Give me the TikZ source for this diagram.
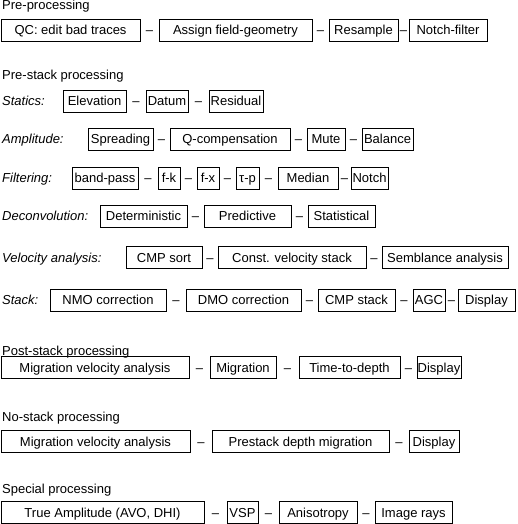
\documentclass[tikz,border=0pt]{standalone}
\usepackage{fontspec}
\setmainfont{Liberation Sans}
\usetikzlibrary{calc}
\tikzset{
  base font/.style={font=\fontsize{13}{16}\selectfont},
  bx/.style={draw, line width=0.9pt, minimum height=22pt, inner sep=0pt,
    text height=12pt, text depth=2.7pt, base font},
  lbl/.style={anchor=west, inner sep=0pt, text height=12pt, text depth=2.7pt,
    font=\fontsize{13}{16}\selectfont\itshape},
  hd/.style={anchor=base west, inner sep=0pt, base font},
  dsh/.style={inner sep=0pt, text height=12pt, text depth=2.7pt, base font}
}
\newcommand{\dashbetween}[3]{\node[dsh] (#1) at ($(#2.east)!0.5!(#3.west)$) {–};}
\begin{document}
\begin{tikzpicture}[x=1pt,y=-1pt]
\useasboundingbox (0,0) rectangle (517,524);

% Pre-processing
\node[hd] (hpre) at (2,10) {Pre-processing};
\node[bx, minimum width=139pt] (qc) at (70.5,30) {QC: edit bad traces};
\node[bx, minimum width=153pt] (assign) at (235.5,30) {Assign field-geometry};
\node[bx, minimum width=69pt] (resample) at (363.5,30) {Resample};
\node[bx, minimum width=78pt] (notchf) at (448,30) {Notch-filter};
\dashbetween{d11}{qc}{assign}
\dashbetween{d12}{assign}{resample}
\dashbetween{d13}{resample}{notchf}

% Pre-stack
\node[hd] (hprestack) at (2,79.5) {Pre-stack processing};

\node[lbl] (lstat) at (2,101) {Statics:};
\node[bx, minimum width=63pt] (elev) at (94.5,101) {Elevation};
\node[bx, minimum width=42pt] (datum) at (167,101) {Datum};
\node[bx, minimum width=54pt] (resid) at (236,101) {Residual};
\dashbetween{d21}{elev}{datum}
\dashbetween{d22}{datum}{resid}

\node[lbl] (lamp) at (2,139) {Amplitude:};
\node[bx, minimum width=65pt] (spread) at (120.5,139) {Spreading};
\node[bx, minimum width=120pt] (qcomp) at (230,139) {Q-compensation};
\node[bx, minimum width=38pt] (mute) at (326,139) {Mute};
\node[bx, minimum width=51pt] (balance) at (387.5,139) {Balance};
\dashbetween{d31}{spread}{qcomp}
\dashbetween{d32}{qcomp}{mute}
\dashbetween{d33}{mute}{balance}

\node[lbl] (lfilt) at (2,178) {Filtering:};
\node[bx, minimum width=66pt] (bandpass) at (105,178) {band-pass};
\node[bx, minimum width=22pt] (fk) at (169,178) {f-k};
\node[bx, minimum width=22pt] (fx) at (208,178) {f-x};
\node[bx, minimum width=23pt] (taup) at (247.5,178) {τ-p};
\node[bx, minimum width=60pt] (median) at (308,178) {Median};
\node[bx, minimum width=37pt] (notch) at (369.5,178) {Notch};
\dashbetween{d41}{bandpass}{fk}
\dashbetween{d42}{fk}{fx}
\dashbetween{d43}{fx}{taup}
\dashbetween{d44}{taup}{median}
\dashbetween{d45}{median}{notch}

\node[lbl] (ldecon) at (2,216) {Deconvolution:};
\node[bx, minimum width=87pt] (determ) at (143.5,216) {Deterministic};
\node[bx, minimum width=87pt] (predict) at (247.5,216) {Predictive};
\node[bx, minimum width=67pt] (statist) at (341.5,216) {Statistical};
\dashbetween{d51}{determ}{predict}
\dashbetween{d52}{predict}{statist}

\node[lbl] (lvel) at (2,257.5) {Velocity analysis:};
\node[bx, minimum width=76pt] (cmpsort) at (164,257.5) {CMP sort};
\node[bx, minimum width=148pt] (constv) at (292,257.5) {Const. velocity stack};
\node[bx, minimum width=126pt] (semb) at (445,257.5) {Semblance analysis};
\dashbetween{d61}{cmpsort}{constv}
\dashbetween{d62}{constv}{semb}

\node[lbl] (lstack) at (2,300) {Stack:};
\node[bx, minimum width=116pt] (nmo) at (108,300) {NMO correction};
\node[bx, minimum width=115pt] (dmo) at (243.5,300) {DMO correction};
\node[bx, minimum width=77pt] (cmpstack) at (356.5,300) {CMP stack};
\node[bx, minimum width=32pt] (agc) at (429,300) {AGC};
\node[bx, minimum width=57pt] (disp1) at (486.5,300) {Display};
\dashbetween{d71}{nmo}{dmo}
\dashbetween{d72}{dmo}{cmpstack}
\dashbetween{d73}{cmpstack}{agc}
\dashbetween{d74}{agc}{disp1}

% Post-stack
\node[hd] (hpost) at (2,355) {Post-stack processing};
\node[bx, minimum width=188pt] (mva1) at (95,367.5) {Migration velocity analysis};
\node[bx, minimum width=66pt] (migr) at (243,367.5) {Migration};
\node[bx, minimum width=101pt] (ttd) at (349.5,367.5) {Time-to-depth};
\node[bx, minimum width=44pt] (disp2) at (439,367.5) {Display};
\dashbetween{d81}{mva1}{migr}
\dashbetween{d82}{migr}{ttd}
\dashbetween{d83}{ttd}{disp2}

% No-stack
\node[hd] (hno) at (2,421.5) {No-stack processing};
\node[bx, minimum width=189pt] (mva2) at (95.5,441.5) {Migration velocity analysis};
\node[bx, minimum width=177pt] (psdm) at (300.5,441.5) {Prestack depth migration};
\node[bx, minimum width=50pt] (disp3) at (434,441.5) {Display};
\dashbetween{d91}{mva2}{psdm}
\dashbetween{d92}{psdm}{disp3}

% Special
\node[hd] (hspec) at (2,493.5) {Special processing};
\node[bx, minimum width=203pt] (ta) at (102.5,512.5) {True Amplitude (AVO, DHI)};
\node[bx, minimum width=31pt] (vsp) at (242.5,512.5) {VSP};
\node[bx, minimum width=78pt] (aniso) at (318,512.5) {Anisotropy};
\node[bx, minimum width=77pt] (imr) at (413.5,512.5) {Image rays};
\dashbetween{d101}{ta}{vsp}
\dashbetween{d102}{vsp}{aniso}
\dashbetween{d103}{aniso}{imr}
\end{tikzpicture}
\end{document}
